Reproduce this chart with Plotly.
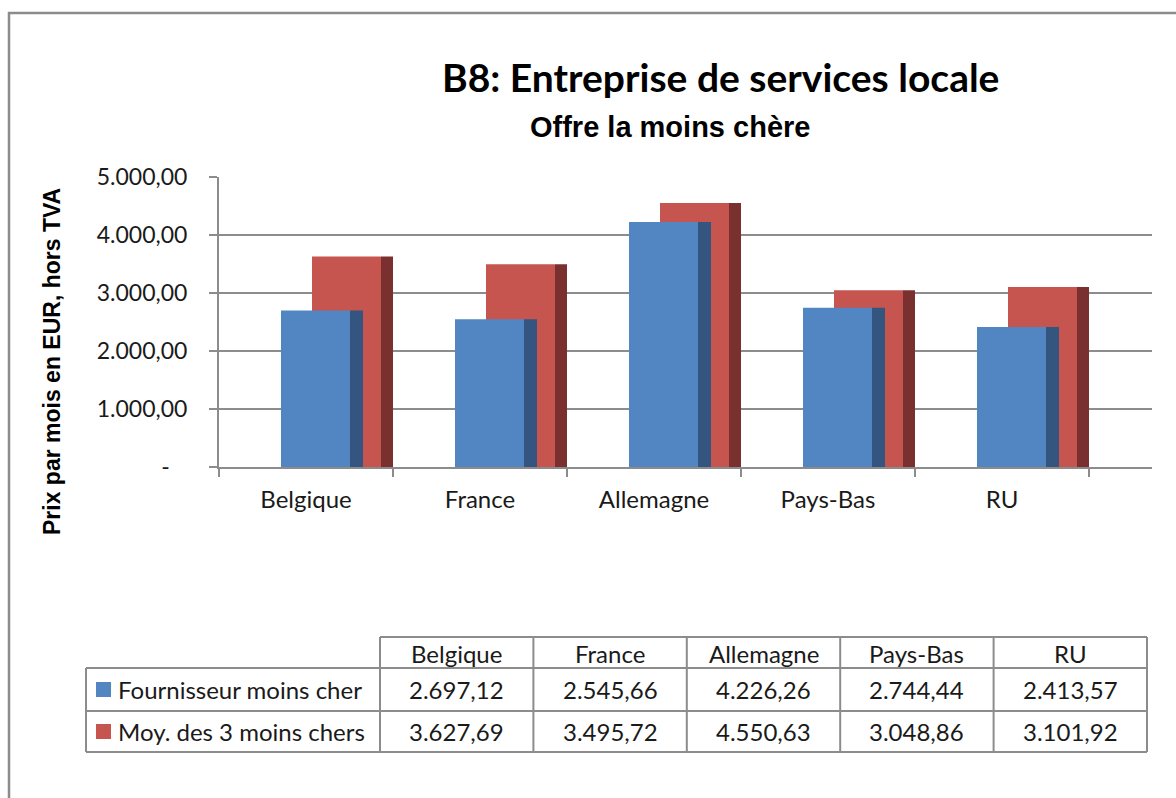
import plotly.graph_objects as go

# ---------------- data ----------------
categories = ["Belgique", "France", "Allemagne", "Pays-Bas", "RU"]
series_names = ["Fournisseur moins cher", "Moy. des 3 moins chers"]
fournisseur = [2697.12, 2545.66, 4226.26, 2744.44, 2413.57]
moyenne = [3627.69, 3495.72, 4550.63, 3048.86, 3101.92]
ytick_vals = [0, 1000, 2000, 3000, 4000, 5000]
ytick_text = ["-\u00a0\u00a0\u00a0", "1.000,00", "2.000,00", "3.000,00", "4.000,00", "5.000,00"]
title_text = "B8: Entreprise de services locale"
subtitle_text = "Offre la moins chère"
ytitle_text = "Prix par mois en EUR, hors TVA"

# ---------------- layout constants ----------------
W, H = 1176, 798
CAT_PX = 174.0          # pixel width of one category
PLOT_L, PLOT_R = 219, 1152
PLOT_T, PLOT_B = 177, 467

BLUE, BLUE_SIDE = "#5286C3", "#34557F"
RED, RED_SIDE = "#C6544F", "#7B3030"
GRID = "#8C8C8C"
FONT_C = "Lato"
FONT_A = "Liberation Sans"


def fx(px):
    return px / W


def fy(py):
    return 1 - py / H


def eu(v):
    s = f"{v:,.2f}"
    return s.replace(",", "X").replace(".", ",").replace("X", ".")


fig = go.Figure()

# bars: front face + darker side face (pseudo 3D); red series behind blue
bar_specs = [
    (moyenne, series_names[1], RED, RED_SIDE, 6, 69, 12),
    (fournisseur, series_names[0], BLUE, BLUE_SIDE, -25, 69, 13),
]
for vals, name, col, side_col, off_px, w_px, side_px in bar_specs:
    fig.add_trace(go.Bar(
        x=categories, y=vals, name=name,
        offset=off_px / CAT_PX, width=w_px / CAT_PX,
        marker=dict(color=col, line=dict(width=0)),
        showlegend=False, hoverinfo="x+y",
    ))
    fig.add_trace(go.Bar(
        x=categories, y=vals, name=name,
        offset=(off_px + w_px) / CAT_PX, width=side_px / CAT_PX,
        marker=dict(color=side_col, line=dict(width=0)),
        showlegend=False, hoverinfo="skip",
    ))

n = len(categories)
extra = (PLOT_R - PLOT_L) / CAT_PX - n

fig.update_layout(
    width=W, height=H,
    margin=dict(l=0, r=0, t=0, b=0),
    paper_bgcolor="white", plot_bgcolor="white",
    barmode="overlay",
    showlegend=False,
    xaxis=dict(
        domain=[fx(PLOT_L), fx(PLOT_R)],
        type="category",
        range=[-0.5, n - 0.5 + extra],
        tickson="boundaries",
        ticks="outside", ticklen=8, tickwidth=2, tickcolor=GRID,
        showgrid=False,
        showline=True, linecolor=GRID, linewidth=2,
        tickfont=dict(family=FONT_C, size=24, color="#1a1a1a"),
        ticklabelstandoff=10,
        automargin=False, fixedrange=True,
    ),
    yaxis=dict(
        domain=[fy(PLOT_B), fy(PLOT_T)],
        range=[0, 5000],
        tickvals=ytick_vals, ticktext=ytick_text,
        ticks="outside", ticklen=8, tickwidth=2, tickcolor=GRID,
        showgrid=True, gridcolor=GRID, gridwidth=2,
        zeroline=False,
        showline=True, linecolor=GRID, linewidth=2,
        tickfont=dict(family=FONT_C, size=23, color="#1a1a1a"),
        ticklabelstandoff=17,
        automargin=False, fixedrange=True,
    ),
)

shapes = []
annotations = []

# outer frame
shapes.append(dict(type="rect", xref="paper", yref="paper",
                   x0=fx(9), x1=fx(W + 40), y0=fy(H + 40), y1=fy(13),
                   line=dict(color="#8C8C8C", width=2.5), fillcolor="rgba(0,0,0,0)",
                   layer="above"))

# titles
annotations.append(dict(text=f"<b>{title_text}</b>", xref="paper", yref="paper",
                        x=fx(720), y=fy(77), xanchor="center", yanchor="middle",
                        showarrow=False, font=dict(family=FONT_C, size=39, color="black")))
annotations.append(dict(text=f"<b>{subtitle_text}</b>", xref="paper", yref="paper",
                        x=fx(670), y=fy(127), xanchor="center", yanchor="middle",
                        showarrow=False, font=dict(family=FONT_A, size=29, color="black")))
annotations.append(dict(text=f"<b>{ytitle_text}</b>", xref="paper", yref="paper",
                        x=fx(52), y=fy(362), xanchor="center", yanchor="middle",
                        textangle=-90, showarrow=False,
                        font=dict(family=FONT_A, size=23, color="black")))

# ---------------- data table ----------------
TBL_L, TBL_C0, TBL_R = 86, 380, 1147
ROW_Y = [637, 668, 711, 752]
col_w = (TBL_R - TBL_C0) / n
col_edges = [TBL_C0 + i * col_w for i in range(n + 1)]
tline = dict(color="#8C8C8C", width=2)

# horizontal lines
shapes.append(dict(type="line", xref="paper", yref="paper",
                   x0=fx(TBL_C0), x1=fx(TBL_R), y0=fy(ROW_Y[0]), y1=fy(ROW_Y[0]), line=tline))
for ry in ROW_Y[1:]:
    shapes.append(dict(type="line", xref="paper", yref="paper",
                       x0=fx(TBL_L), x1=fx(TBL_R), y0=fy(ry), y1=fy(ry), line=tline))
# vertical lines
shapes.append(dict(type="line", xref="paper", yref="paper",
                   x0=fx(TBL_L), x1=fx(TBL_L), y0=fy(ROW_Y[1]), y1=fy(ROW_Y[3]), line=tline))
for cx in col_edges:
    shapes.append(dict(type="line", xref="paper", yref="paper",
                       x0=fx(cx), x1=fx(cx), y0=fy(ROW_Y[0]), y1=fy(ROW_Y[3]), line=tline))

cell_font = dict(family=FONT_C, size=24, color="#1a1a1a")
# header
for i, cat in enumerate(categories):
    cx = (col_edges[i] + col_edges[i + 1]) / 2
    annotations.append(dict(text=cat, xref="paper", yref="paper",
                            x=fx(cx), y=fy((ROW_Y[0] + ROW_Y[1]) / 2 + 1),
                            xanchor="center", yanchor="middle", showarrow=False, font=cell_font))
rows = [(series_names[0], fournisseur, BLUE), (series_names[1], moyenne, RED)]
for r, (name, vals, col) in enumerate(rows):
    ymid = (ROW_Y[r + 1] + ROW_Y[r + 2]) / 2
    shapes.append(dict(type="rect", xref="paper", yref="paper",
                       x0=fx(96), x1=fx(111), y0=fy(ymid + 7.5), y1=fy(ymid - 7.5),
                       line=dict(width=0), fillcolor=col))
    annotations.append(dict(text=name, xref="paper", yref="paper",
                            x=fx(116), y=fy(ymid), xanchor="left", yanchor="middle",
                            showarrow=False, font=cell_font))
    for i, v in enumerate(vals):
        cx = (col_edges[i] + col_edges[i + 1]) / 2
        annotations.append(dict(text=eu(v), xref="paper", yref="paper",
                                x=fx(cx), y=fy(ymid), xanchor="center", yanchor="middle",
                                showarrow=False, font=cell_font))

fig.update_layout(shapes=shapes, annotations=annotations)
fig.write_html(
    "out.html",
    config={"displayModeBar": False},
    post_script="document.body.style.margin='0';document.body.style.overflow='hidden';",
)
